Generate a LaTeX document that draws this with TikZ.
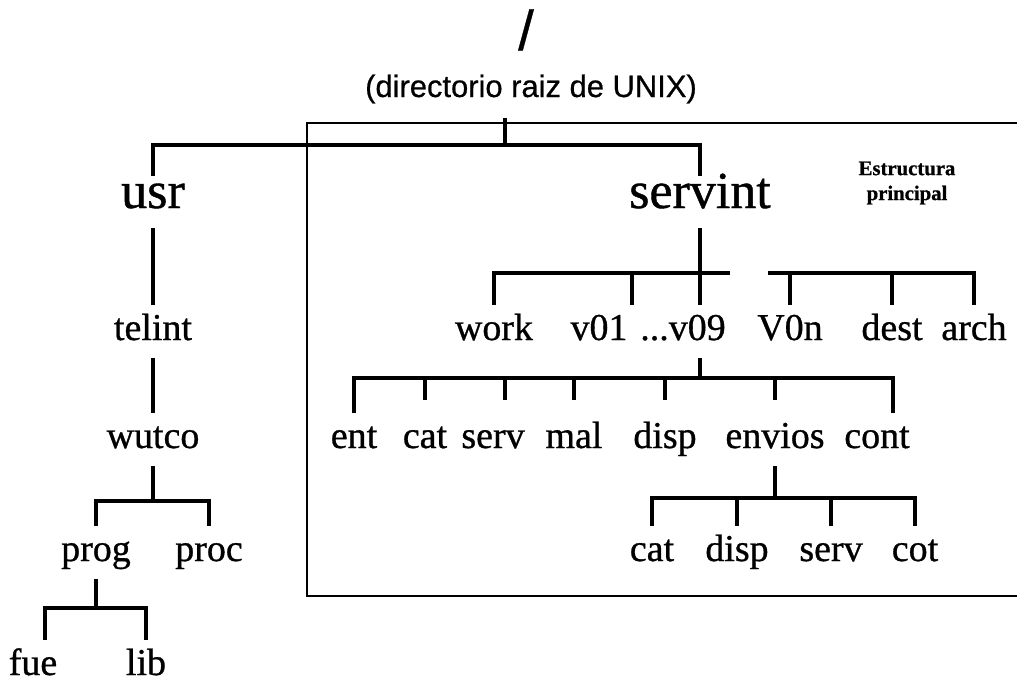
\documentclass[tikz,border=0pt]{standalone}
\usepackage{fontspec}
\setmainfont{Liberation Serif}[FakeBold=0.8]
\setsansfont{Liberation Sans}[FakeBold=0.6]
\usetikzlibrary{positioning}

\begin{document}
\begin{tikzpicture}[
		x=0.02cm, y=-0.02cm,
		dir/.style={font=\fontsize{21.6}{24}\selectfont, anchor=base, inner sep=0pt, text height=0.7cm, text depth=0.36cm},
		bigdir/.style={font=\fontsize{29.6}{32}\selectfont, anchor=base, inner sep=0pt, text height=0.64cm, text depth=0.4cm},
		bus/.style={line width=2.8pt},
		short/.style={shorten >=0.26cm},
		frame/.style={line width=0.9pt}
	]
	\useasboundingbox (0,0) rectangle (1017,683);

	% Nodes
	\node[font=\sffamily\fontsize{32}{34}\selectfont, anchor=base, inner sep=0pt] (slash) at (526,50) {/};
	\node[font=\sffamily\fontsize{17.6}{20}\selectfont, anchor=base, inner sep=0pt, text depth=0.42cm] (root) at (531,97) {(directorio raiz de UNIX)};

	\node[bigdir] (usr) at (153,208) {usr};
	\node[bigdir] (servint) at (700,208) {servint};
	\node[font=\bfseries\fontsize{11.8}{14.2}\selectfont, align=center, inner sep=0pt] (note) at (907,183) {Estructura\\principal};

	\node[dir] (telint) at (153,340) {telint};
	\node[dir] (wutco) at (153,448) {wutco};
	\node[dir] (prog) at (96,561) {prog};
	\node[dir] (proc) at (209,561) {proc};
	\node[dir, text depth=0.1cm] (fue) at (33,675) {fue};
	\node[dir, text depth=0.1cm] (lib) at (146,675) {lib};

	\node[dir] (work) at (494,340) {work};
	\node[dir] (v01) at (599,340) {v01};
	\node[dir] (v09) at (683,340) {...v09};
	\node[dir] (v0n) at (790,340) {V0n};
	\node[dir] (dest) at (892,340) {dest};
	\node[dir] (arch) at (974,340) {arch};

	\node[dir] (ent) at (354,448) {ent};
	\node[dir] (cat) at (425,448) {cat};
	\node[dir] (serv) at (493,448) {serv};
	\node[dir] (mal) at (574,448) {mal};
	\node[dir] (disp) at (665,448) {disp};
	\node[dir] (envios) at (775,448) {envios};
	\node[dir] (cont) at (877,448) {cont};

	\node[dir] (cat2) at (652,561) {cat};
	\node[dir] (disp2) at (737,561) {disp};
	\node[dir] (serv2) at (831,561) {serv};
	\node[dir] (cot2) at (915,561) {cot};

	% Junctions
	\coordinate (jroot) at (505,145);
	\coordinate (jserv) at (700,273);
	\coordinate (sbend) at (730,273);
	\coordinate (dv01) at (632,273);
	\coordinate (vbus) at (768,273);
	\coordinate (jv09) at (700,378);
	\coordinate (dserv) at (505,378);
	\coordinate (dcont) at (893,378);
	\coordinate (jenv) at (775,498);
	\coordinate (jwut) at (153,501);
	\coordinate (jprog) at (96,608);
	\coordinate (dfue) at (45,608);

	% Frame
	\draw[frame] (1017,123) -- (307,123) -- (307,596) -- (1017,596);

	% Connections
	\draw[bus] (jroot |- root.south) -- (jroot);
	\draw[bus] (usr.north) |- (jroot) -| (servint.north);

	\draw[bus] (usr.south) -- (telint.north);
	\draw[bus] (telint.south) -- (wutco.north);
	\draw[bus] (wutco.south) -- (jwut);
	\draw[bus] (prog.north) |- (jwut) -| (proc.north);
	\draw[bus] (prog.south) -- (jprog);
	\draw[bus] (dfue |- fue.north) |- (jprog) -| (lib.north);

	\draw[bus] (servint.south) -- (jserv |- v09.north);
	\draw[bus] (work.north) |- (jserv) -- (sbend);
	\draw[bus] (dv01) -- (dv01 |- v01.north);
	\draw[bus] (vbus) -| (arch.north);
	\draw[bus] (v0n.north |- vbus) -- (v0n.north);
	\draw[bus] (dest.north |- vbus) -- (dest.north);

	\draw[bus] (jserv |- v09.south) -- (jv09);
	\draw[bus] (ent.north) |- (jv09) -| (dcont |- cont.north);
	\draw[bus, short] (cat.north |- jv09) -- (cat.north);
	\draw[bus, short] (dserv) -- (dserv |- serv.north);
	\draw[bus, short] (mal.north |- jv09) -- (mal.north);
	\draw[bus, short] (disp.north |- jv09) -- (disp.north);
	\draw[bus, short] (envios.north |- jv09) -- (envios.north);

	\draw[bus] (envios.south) -- (jenv);
	\draw[bus] (cat2.north) |- (jenv) -| (cot2.north);
	\draw[bus] (disp2.north |- jenv) -- (disp2.north);
	\draw[bus] (serv2.north |- jenv) -- (serv2.north);

\end{tikzpicture}
\end{document}
